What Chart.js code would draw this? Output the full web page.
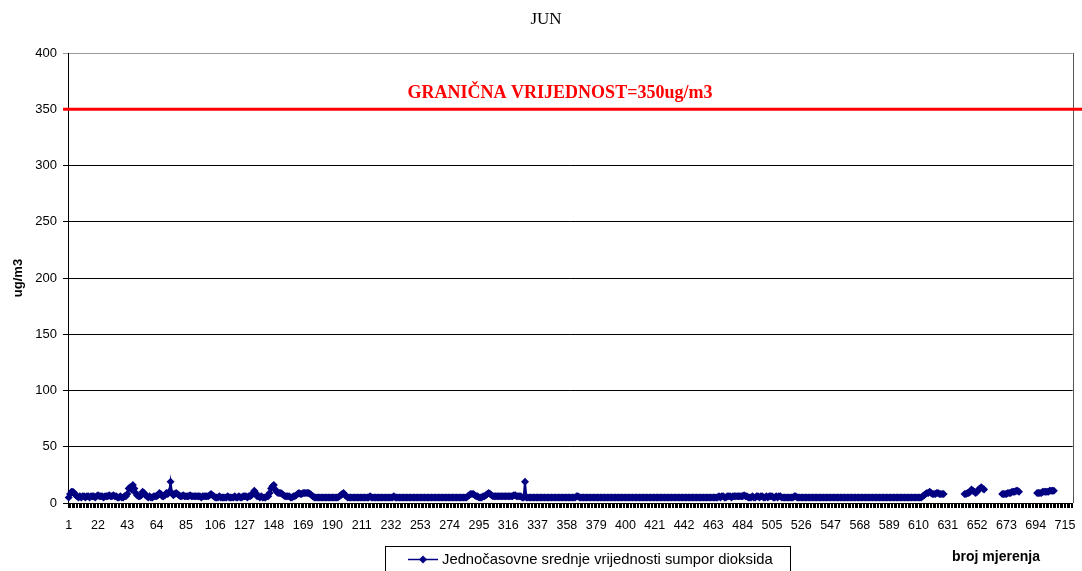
<!DOCTYPE html>
<html>
<head>
<meta charset="utf-8">
<script src="https://cdn.jsdelivr.net/npm/chart.js@4"></script>
<style>
html,body{margin:0;padding:0;background:#fff;}
#wrap{width:1082px;height:571px;position:relative;}
</style>
</head>
<body>
<div id="wrap"><canvas id="c" width="1082" height="571"></canvas></div>
<script>
const chartTitle = 'JUN';
const seriesName = 'Jednočasovne srednje vrijednosti sumpor dioksida';
const yAxisTitle = 'ug/m3';
const xAxisTitle = 'broj mjerenja';
const limitValue = 350;
const limitLabel = 'GRANIČNA VRIJEDNOST=350ug/m3';
const yTickValues = [0,50,100,150,200,250,300,350,400];
const tickLabels = [1,22,43,64,85,106,127,148,169,190,211,232,253,274,295,316,337,358,379,400,421,442,463,484,505,526,547,568,589,610,631,652,673,694,715];
const categories = [];
for (let i = 1; i <= 720; i++) categories.push(i);
const N = null;
const so2Values = [
5,8,10,10,9,7,6,5,6,5,6,6,5,6,6,5,6,6,6,5,
6,7,6,6,6,5,6,6,6,7,6,6,7,6,6,5,5,6,5,5,
6,6,8,13,14,12,16,13,9,7,6,6,7,10,9,7,6,5,6,5,
5,6,6,6,7,9,8,6,6,7,9,8,10,19,9,7,8,9,8,7,
6,6,7,6,6,6,6,7,6,6,6,6,6,6,6,5,6,6,6,6,
6,7,8,7,6,5,5,5,6,5,5,5,5,5,6,5,5,5,5,6,
5,5,6,5,5,6,6,6,5,6,6,7,9,11,9,6,6,5,6,5,
5,5,6,6,9,13,15,16,12,10,9,9,9,8,7,6,6,6,6,5,
5,6,6,7,8,9,8,8,9,9,9,9,9,8,7,6,5,5,5,5,
5,5,5,5,5,5,5,5,5,5,5,5,5,5,6,7,8,9,7,6,
5,5,5,5,5,5,5,5,5,5,5,5,5,5,5,5,6,5,5,5,
5,5,5,5,5,5,5,5,5,5,5,5,5,6,5,5,5,5,5,5,
5,5,5,5,5,5,5,5,5,5,5,5,5,5,5,5,5,5,5,5,
5,5,5,5,5,5,5,5,5,5,5,5,5,5,5,5,5,5,5,5,
5,5,5,5,5,5,6,7,8,8,8,7,6,6,5,5,5,6,6,7,
8,9,8,7,6,6,6,6,6,6,6,6,6,6,6,6,6,6,6,7,
7,6,6,6,6,5,5,19,5,5,5,5,5,5,5,5,5,5,5,5,
5,5,5,5,5,5,5,5,5,5,5,5,5,5,5,5,5,5,5,5,
5,5,5,5,6,6,5,5,5,5,5,5,5,5,5,5,5,5,5,5,
5,5,5,5,5,5,5,5,5,5,5,5,5,5,5,5,5,5,5,5,
5,5,5,5,5,5,5,5,5,5,5,5,5,5,5,5,5,5,5,5,
5,5,5,5,5,5,5,5,5,5,5,5,5,5,5,5,5,5,5,5,
5,5,5,5,5,5,5,5,5,5,5,5,5,5,5,5,5,5,5,5,
5,5,5,5,5,5,6,5,6,6,5,5,6,6,6,5,6,6,6,6,
6,6,6,6,7,6,6,5,5,5,6,5,5,6,6,5,6,6,5,5,
6,5,6,6,6,5,5,6,5,6,6,5,5,5,5,5,5,5,5,5,
6,6,5,5,5,5,5,5,5,5,5,5,5,5,5,5,5,5,5,5,
5,5,5,5,5,5,5,5,5,5,5,5,5,5,5,5,5,5,5,5,
5,5,5,5,5,5,5,5,5,5,5,5,5,5,5,5,5,5,5,5,
5,5,5,5,5,5,5,5,5,5,5,5,5,5,5,5,5,5,5,5,
5,5,5,5,5,5,5,5,5,5,5,5,6,7,8,9,9,10,9,8,
8,8,9,9,8,8,8,8,N,N,N,N,N,N,N,N,N,N,N,N,
N,N,8,8,9,9,10,12,11,10,9,10,12,13,14,13,12,N,N,N,
N,N,N,N,N,N,N,N,N,8,8,8,8,9,9,9,10,10,10,11,
11,10,N,N,N,N,N,N,N,N,N,N,N,N,9,9,9,9,10,10,
10,10,10,11,11,11,11,N,N,N,N,N,N,N,N,N,N,N,N,N
];

const PLOT_LEFT = 68, PLOT_RIGHT = 1076, PLOT_TOP = 53, PLOT_BOTTOM = 503;

const decor = {
  id: 'decor',
  beforeDraw(chart) {
    const ctx = chart.ctx;
    ctx.save();
    ctx.fillStyle = '#fff';
    ctx.fillRect(0, 0, chart.width, chart.height);
    ctx.restore();
  },
  afterDatasetsDraw(chart) {
    const ctx = chart.ctx;
    const y = chart.scales.y;
    const ca = chart.chartArea;
    ctx.save();
    ctx.strokeStyle = '#555';
    ctx.lineWidth = 1;
    ctx.beginPath();
    ctx.moveTo(Math.round(ca.right) + 0.5, ca.top);
    ctx.lineTo(Math.round(ca.right) + 0.5, ca.bottom);
    ctx.stroke();
    const ly = y.getPixelForValue(limitValue);
    ctx.strokeStyle = '#ff0000';
    ctx.lineWidth = 3;
    ctx.beginPath();
    ctx.moveTo(ca.left - 5, ly);
    ctx.lineTo(chart.width, ly);
    ctx.stroke();
    ctx.fillStyle = '#ff0000';
    ctx.font = 'bold 18px "Liberation Serif", "Times New Roman", serif';
    ctx.textAlign = 'center';
    ctx.textBaseline = 'alphabetic';
    ctx.fillText(limitLabel, 560, ly - 11);
    ctx.restore();
  },
  afterDraw(chart) {
    const ctx = chart.ctx;
    ctx.save();
    ctx.fillStyle = '#000';
    ctx.font = '17px "Liberation Serif", "Times New Roman", serif';
    ctx.textAlign = 'center';
    ctx.textBaseline = 'middle';
    ctx.fillText(chartTitle, 546, 20);
    ctx.save();
    ctx.translate(18, 278);
    ctx.rotate(-Math.PI / 2);
    ctx.font = 'bold 13px "Liberation Sans", Arial, sans-serif';
    ctx.fillText(yAxisTitle, 0, 0);
    ctx.restore();
    ctx.font = 'bold 14px "Liberation Sans", Arial, sans-serif';
    ctx.textAlign = 'center';
    ctx.fillText(xAxisTitle, 996, 557);
    ctx.strokeStyle = '#000';
    ctx.lineWidth = 1;
    ctx.strokeRect(385.5, 546.5, 405, 40);
    ctx.strokeStyle = '#000080';
    ctx.lineWidth = 1.5;
    ctx.beginPath();
    ctx.moveTo(408, 559.5);
    ctx.lineTo(438, 559.5);
    ctx.stroke();
    ctx.fillStyle = '#000080';
    ctx.beginPath();
    ctx.moveTo(423, 555.5);
    ctx.lineTo(427, 559.5);
    ctx.lineTo(423, 563.5);
    ctx.lineTo(419, 559.5);
    ctx.closePath();
    ctx.fill();
    ctx.fillStyle = '#000';
    ctx.font = '14.8px "Liberation Sans", Arial, sans-serif';
    ctx.textAlign = 'left';
    ctx.textBaseline = 'middle';
    ctx.fillText(seriesName, 442, 560);
    ctx.restore();
  }
};

new Chart(document.getElementById('c'), {
  type: 'line',
  data: {
    labels: categories,
    datasets: [{
      label: seriesName,
      data: so2Values,
      borderColor: '#000080',
      backgroundColor: '#000080',
      borderWidth: 2,
      pointStyle: 'rectRot',
      pointRadius: 4,
      pointBorderWidth: 0,
      pointBackgroundColor: '#000080',
      spanGaps: false,
      tension: 0
    }]
  },
  options: {
    responsive: false,
    animation: false,
    events: [],
    layout: { padding: { top: PLOT_TOP, right: 1082 - PLOT_RIGHT, left: 0, bottom: 0 } },
    plugins: { legend: { display: false }, title: { display: false }, tooltip: { enabled: false } },
    scales: {
      x: {
        type: 'category',
        offset: true,
        afterFit(scale) { scale.height = 571 - PLOT_BOTTOM; },
        grid: {
          display: true,
          drawOnChartArea: false,
          drawTicks: true,
          tickLength: 5,
          color: '#000',
          offset: true
        },
        border: { display: true, color: '#000', width: 1 },
        ticks: {
          autoSkip: false,
          maxRotation: 0,
          minRotation: 0,
          padding: 10,
          color: '#000',
          font: { family: '"Liberation Sans", Arial, sans-serif', size: 12.5 },
          callback(val, index) {
            const c = categories[index];
            return tickLabels.includes(c) ? String(c) : '';
          }
        }
      },
      y: {
        min: 0,
        max: 400,
        afterFit(scale) { scale.width = PLOT_LEFT; },
        afterBuildTicks(scale) { scale.ticks = yTickValues.map(v => ({ value: v })); },
        grid: {
          color(ctx) { return ctx.tick && ctx.tick.value === 400 ? '#999' : '#000'; },
          tickLength: 5,
          drawTicks: true
        },
        border: { display: true, color: '#000', width: 1 },
        ticks: {
          padding: 6,
          color: '#000',
          font: { family: '"Liberation Sans", Arial, sans-serif', size: 13 }
        }
      }
    }
  },
  plugins: [decor]
});
</script>
</body>
</html>
